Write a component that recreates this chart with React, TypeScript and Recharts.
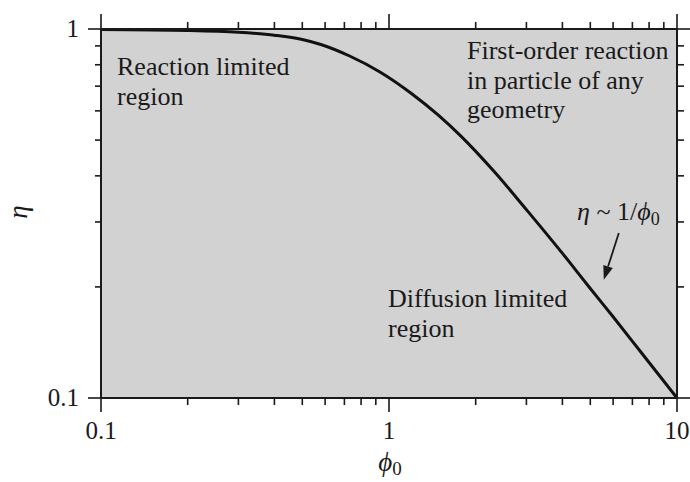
import { Line, LineChart, ReferenceArea, ReferenceLine, XAxis, YAxis } from 'recharts';

// effectiveness factor vs Thiele modulus
const phiValues = [0.1, 0.2, 0.3, 0.4, 0.5, 0.58, 0.73, 0.93, 1.19, 1.48, 1.77, 2.31, 3.03, 4.28, 5, 6, 7.5, 10];
const etaValues = [0.997, 0.991, 0.98, 0.962, 0.937, 0.908, 0.845, 0.765, 0.671, 0.585, 0.514, 0.412, 0.321, 0.231, 0.198, 0.166, 0.133, 0.1];

const xTicks = [0.1, 0.2, 0.3, 0.4, 0.5, 0.6, 0.7, 0.8, 0.9, 1, 2, 3, 4, 5, 6, 7, 8, 9, 10];
const yTicks = [0.1, 0.2, 0.3, 0.4, 0.5, 0.6, 0.7, 0.8, 0.9, 1];
const majorTicks = [0.1, 1, 10];
const majorLabels: Record<string, string> = { '0.1': '0.1', '1': '1', '10': '10' };

// arrow pointing at the asymptote, in data coordinates [phi, eta]
const arrowStart = [6.28, 0.28];
const arrowEnd = [5.57, 0.209];

const SERIF = { fontFamily: "'Liberation Serif'" };
const INK = '#1a1a1a';

const data = phiValues.map((phi, i) => ({ phi, eta: etaValues[i] }));

const isMajor = (v: number) => majorTicks.some((m) => Math.abs(m - v) < 1e-9);

function BottomTick({ x, y, payload }: any) {
  const major = isMajor(payload.value);
  return (
    <g>
      <line x1={x} y1={y} x2={x} y2={y + (major ? 14 : 7)} stroke={INK} strokeWidth={1.6} />
      {major && (
        <text x={x} y={y + 41} textAnchor="middle" style={SERIF} fontSize={25} fill={INK}>
          {majorLabels[String(payload.value)]}
        </text>
      )}
    </g>
  );
}

function TopTick({ x, y, payload }: any) {
  const major = isMajor(payload.value);
  return <line x1={x} y1={y - (major ? 15 : 7)} x2={x} y2={y} stroke={INK} strokeWidth={1.6} />;
}

function LeftTick({ x, y, payload }: any) {
  const major = isMajor(payload.value);
  return (
    <g>
      <line x1={x - (major ? 13 : 6)} y1={y} x2={x} y2={y} stroke={INK} strokeWidth={1.6} />
      {major && (
        <text x={x - 22} y={y + 8} textAnchor="end" style={SERIF} fontSize={25} fill={INK}>
          {majorLabels[String(payload.value)]}
        </text>
      )}
    </g>
  );
}

function RightTick({ x, y, payload }: any) {
  const major = isMajor(payload.value);
  return <line x1={x} y1={y} x2={x + (major ? 13 : 7)} y2={y} stroke={INK} strokeWidth={1.6} />;
}

function Arrow(props: any) {
  const { x1, y1, x2, y2 } = props;
  const ang = Math.atan2(y2 - y1, x2 - x1);
  const len = 14;
  const w = 5;
  const bx = x2 - len * Math.cos(ang);
  const by = y2 - len * Math.sin(ang);
  const px = -Math.sin(ang) * w;
  const py = Math.cos(ang) * w;
  return (
    <g>
      <line x1={x1} y1={y1} x2={bx} y2={by} stroke={INK} strokeWidth={1.8} />
      <polygon points={`${x2},${y2} ${bx + px},${by + py} ${bx - px},${by - py}`} fill={INK} />
    </g>
  );
}

const axisLine = { stroke: INK, strokeWidth: 2 };

function Note({ x, y, children }: any) {
  return (
    <text x={x} y={y} fontSize={26} style={SERIF}>
      {children}
    </text>
  );
}

export default function App() {
  return (
    <div style={{ position: 'absolute', left: 0, top: 0, width: 690, height: 482, background: '#fff' }}>
      <LineChart width={690} height={482} data={data} margin={{ top: 19, right: 3, bottom: 34, left: 0 }}>
        <ReferenceArea
          xAxisId="bottom"
          yAxisId="left"
          x1={0.1}
          x2={10}
          y1={0.1}
          y2={1}
          fill="#d2d2d2"
          fillOpacity={1}
          stroke="none"
          ifOverflow="hidden"
        />
        <XAxis
          xAxisId="bottom"
          dataKey="phi"
          type="number"
          scale="log"
          domain={[0.1, 10]}
          ticks={xTicks}
          interval={0}
          allowDataOverflow
          height={50}
          tickSize={0}
          tickMargin={0}
          tickLine={false}
          axisLine={axisLine}
          tick={<BottomTick />}
        />
        <XAxis
          xAxisId="top"
          orientation="top"
          dataKey="phi"
          type="number"
          scale="log"
          domain={[0.1, 10]}
          ticks={xTicks}
          interval={0}
          allowDataOverflow
          height={10}
          tickSize={0}
          tickMargin={0}
          tickLine={false}
          axisLine={axisLine}
          tick={<TopTick />}
        />
        <YAxis
          yAxisId="left"
          type="number"
          scale="log"
          domain={[0.1, 1]}
          ticks={yTicks}
          interval={0}
          allowDataOverflow
          width={101}
          tickSize={0}
          tickMargin={0}
          tickLine={false}
          axisLine={axisLine}
          tick={<LeftTick />}
        />
        <YAxis
          yAxisId="right"
          orientation="right"
          type="number"
          scale="log"
          domain={[0.1, 1]}
          ticks={yTicks}
          interval={0}
          allowDataOverflow
          width={10}
          tickSize={0}
          tickMargin={0}
          tickLine={false}
          axisLine={axisLine}
          tick={<RightTick />}
        />
        <Line
          xAxisId="bottom"
          yAxisId="left"
          type="monotone"
          dataKey="eta"
          stroke="#111"
          strokeWidth={3}
          dot={false}
          isAnimationActive={false}
        />
        <ReferenceLine
          xAxisId="bottom"
          yAxisId="left"
          segment={[
            { x: arrowStart[0], y: arrowStart[1] },
            { x: arrowEnd[0], y: arrowEnd[1] },
          ]}
          stroke={INK}
          shape={<Arrow />}
        />
      </LineChart>
      <svg width={690} height={482} style={{ position: 'absolute', left: 0, top: 0, pointerEvents: 'none' }} fill={INK}>
        <Note x={117} y={75}>Reaction limited</Note>
        <Note x={117} y={105}>region</Note>
        <Note x={467} y={59}>First-order reaction</Note>
        <Note x={467} y={89}>in particle of any</Note>
        <Note x={467} y={118}>geometry</Note>
        <Note x={388} y={307}>Diffusion limited</Note>
        <Note x={388} y={337}>region</Note>
        <Note x={577} y={220}>
          <tspan fontStyle="italic">η</tspan>
          <tspan> ~ 1/</tspan>
          <tspan fontStyle="italic">ϕ</tspan>
          <tspan fontSize={18} dy={5}>0</tspan>
        </Note>
        <text x={390} y={471} fontSize={27} textAnchor="middle" style={SERIF}>
          <tspan fontStyle="italic">ϕ</tspan>
          <tspan fontSize={19} dy={4}>0</tspan>
        </text>
        <text
          x={27}
          y={212}
          fontSize={27}
          fontStyle="italic"
          textAnchor="middle"
          style={SERIF}
          transform="rotate(-90 27 212)"
        >
          η
        </text>
      </svg>
    </div>
  );
}
